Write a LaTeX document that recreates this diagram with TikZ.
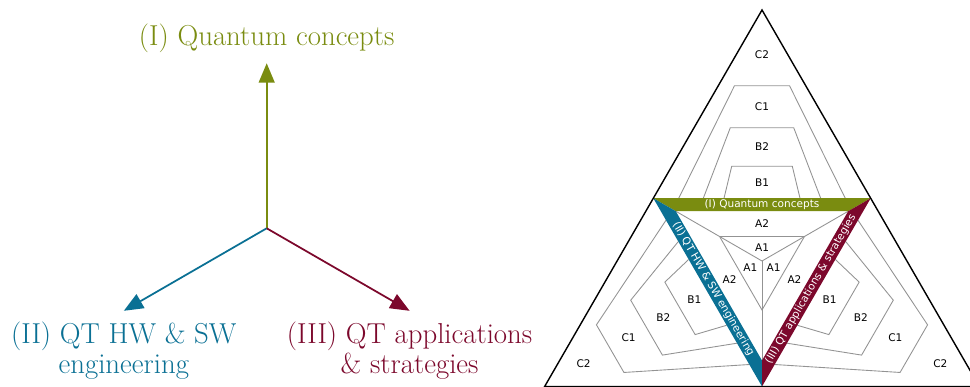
\documentclass[tikz,border=0pt]{standalone}
\usepackage{fontspec}
\newfontfamily\labelfont{DejaVu Sans}
\usetikzlibrary{positioning,arrows.meta}
\definecolor{qcgreen}{RGB}{122,140,16}
\definecolor{hwblue}{RGB}{10,112,148}
\definecolor{appred}{RGB}{124,8,44}
\begin{document}
\begin{tikzpicture}[
  axis/.style={line width=1pt,-{Triangle[length=11pt,width=9pt]}},
  axislabel/.style={font=\fontsize{16.4}{16.9}\selectfont,align=center},
  zone/.style={draw=gray!85,line width=0.5pt},
  zonelabel/.style={font=\labelfont\fontsize{6}{7}\selectfont,inner sep=0pt},
  bandtext/.style={font=\labelfont\fontsize{6}{7}\selectfont,text=white,inner sep=0pt}]
  \useasboundingbox (0,0) rectangle (19.4,7.74);
  % Axes
  \coordinate (o) at (5.334,3.174);
  \path (o) ++(90:3.3) coordinate (tI);
  \path (o) ++(210:3.3) coordinate (tII);
  \path (o) ++(330:3.3) coordinate (tIII);
  \draw[axis,qcgreen] (o) -- (tI);
  \draw[axis,hwblue] (o) -- (tII);
  \draw[axis,appred] (o) -- (tIII);
  \node (lI) [axislabel,text=qcgreen,above=2.5pt of tI] {(I) Quantum concepts};
  \node (lII) [axislabel,text=hwblue,below=3pt of tII] {(II) QT HW \& SW\\engineering};
  \node (lIII) [axislabel,text=appred,below=3pt of tIII] {(III) QT applications\\\& strategies};
  % Triangle
  \begin{scope}[shift={(15.24,2.52)}]
    \coordinate (c) at (0,0);
    % Zones
    \foreach \r in {0,120,240} {
      \begin{scope}[rotate=\r]
        \draw[zone] (-1.666,1.255) -- (-0.55,3.506) -- (0.55,3.506) -- (1.666,1.255);
        \draw[zone] (-1.174,1.255) -- (-0.634,2.666) -- (0.634,2.666) -- (1.174,1.255);
        \draw[zone] (-0.76,1.255) -- (-0.606,1.894) -- (0.606,1.894) -- (0.76,1.255);
        \draw[zone] (c) -- (270:1.99);
        \node[zonelabel] (c2-\r) at (90:4.12) {C2};
        \node[zonelabel] (c1-\r) at (90:3.08) {C1};
        \node[zonelabel] (b2-\r) at (90:2.28) {B2};
        \node[zonelabel] (b1-\r) at (90:1.56) {B1};
        \node[zonelabel] (a2-\r) at (90:0.75) {A2};
        \node[zonelabel] (a1-\r) at (90:0.27) {A1};
      \end{scope}
    }
    \draw[zone] (30:0.98) -- (150:0.98) -- (270:0.98) -- cycle;
    % Bands
    \fill[qcgreen] (150:2.51) -- (30:2.51) -- (30:1.99) -- (150:1.99) -- cycle;
    \fill[hwblue] (150:2.51) -- (270:2.51) -- (270:1.99) -- (150:1.99) -- cycle;
    \fill[appred] (30:2.51) -- (270:2.51) -- (270:1.99) -- (30:1.99) -- cycle;
    \node[bandtext] (bI) at (90:1.125) {(I) Quantum concepts};
    \node[bandtext,rotate=-60] (bII) at (210:1.125) {(II) QT HW \& SW engineering};
    \node[bandtext,rotate=60] (bIII) at (330:1.125) {(III) QT applications \& strategies};
    \draw[line width=0.8pt] (90:5.02) -- (210:5.02) -- (330:5.02) -- cycle;
  \end{scope}
\end{tikzpicture}
\end{document}
